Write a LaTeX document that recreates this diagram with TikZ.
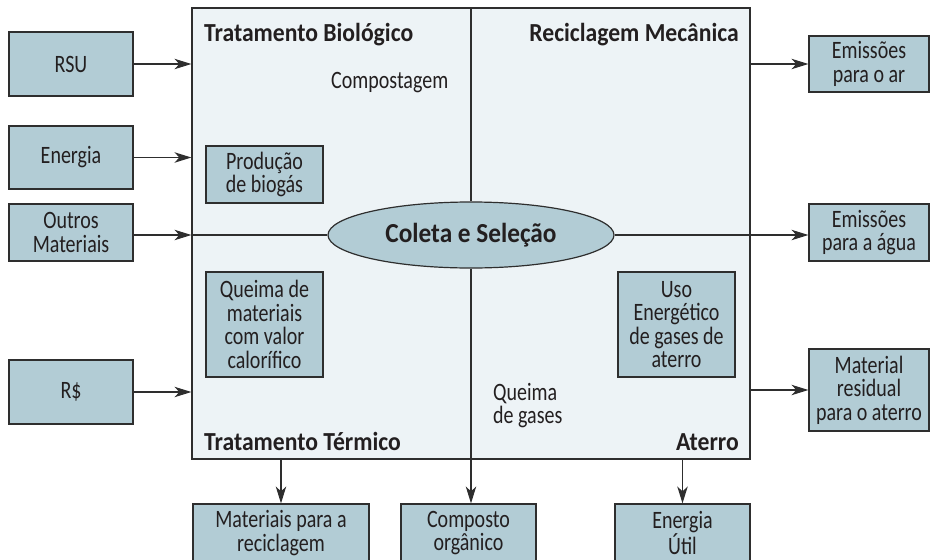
\documentclass[tikz,border=0pt]{standalone}
\usepackage{fontspec}
\setmainfont{Carlito}[FakeStretch=0.8, BoldFeatures={FakeStretch=0.91}]
\newfontfamily\ellfont{Carlito}[FakeStretch=0.92]
\usetikzlibrary{arrows.meta,shapes.geometric}
\definecolor{boxfill}{HTML}{B2CCD5}
\definecolor{mainfill}{HTML}{EDF3F6}
\definecolor{linec}{HTML}{2E2E2E}
\definecolor{textc}{HTML}{231F20}
\tikzset{
  x=1pt, y=-1pt,
  every node/.style={font=\fontsize{25}{23.5}\selectfont, text=textc},
  bluebox/.style={draw=linec, line width=1.2pt, fill=boxfill, align=center, inner sep=0pt, minimum width=#1},
  bluebox/.default=124pt,
  title/.style={font=\fontsize{26}{28}\selectfont\bfseries, inner sep=0pt},
  plain/.style={inner sep=0pt},
  flow/.style={draw=linec, line width=1.2pt, -{Stealth[length=17pt,width=10.5pt,inset=5pt]}},
  seg/.style={draw=linec, line width=1.2pt}
}
\begin{document}
\begin{tikzpicture}
\useasboundingbox (0,0) rectangle (930,560);
% main panel
\node[draw=linec, line width=1.2pt, fill=mainfill, minimum width=558pt, minimum height=451pt, inner sep=0pt] (main) at (471,233.5) {};
% left inputs
\node[bluebox, minimum height=64pt] (rsu) at (71,64) {RSU};
\node[bluebox, minimum height=63pt] (ene) at (71,157.5) {Energia};
\node[bluebox, minimum height=57pt] (out) at (71,232.5) {Outros\\Materiais};
\node[bluebox, minimum height=64pt] (rs) at (71,392) {R\$};
% right outputs
\node[bluebox=120pt, minimum height=56pt] (ar) at (869,64) {Emissões\\para o ar};
\node[bluebox=120pt, minimum height=57pt] (agua) at (869,232.5) {Emissões\\para a água};
\node[bluebox=120pt, minimum height=82pt] (mat) at (869,390) {Material\\residual\\para o aterro};
% inner boxes
\node[bluebox=117pt, minimum height=57pt] (bio) at (264.5,174.5) {Produção\\de biogás};
\node[bluebox=117pt, minimum height=105pt] (que) at (264.5,324.5) {Queima de\\materiais\\com valor\\calorífico};
\node[bluebox=117pt, minimum height=105pt] (uso) at (676.5,324.5) {Uso\\Energético\\de gases de\\aterro};
% bottom boxes
\node[bluebox=176pt, minimum height=58pt] (rec) at (281,533) {Materiais para a\\reciclagem};
\node[bluebox=135pt, minimum height=58pt] (comp) at (468.5,533) {Composto\\orgânico};
\node[bluebox=135pt, minimum height=58pt] (util) at (682.5,533) {Energia\\Útil};
% ellipse
\node[ellipse, draw=linec, line width=1.2pt, fill=boxfill, minimum width=286pt, minimum height=66pt, inner sep=0pt, font=\fontsize{27.5}{30}\selectfont\ellfont\bfseries] (ell) at (471,235) {Coleta e Seleção};
% titles and labels
\node[title, anchor=base west] (tb) at (204,41.5) {Tratamento Biológico};
\node[title, anchor=base east] (rm) at (739,41.5) {Reciclagem Mecânica};
\node[title, anchor=base west] (tt) at (204,450) {Tratamento Térmico};
\node[title, anchor=base east] (at) at (739,450) {Aterro};
\node[plain, anchor=base west] (cp) at (331,88) {Compostagem};
\node[plain, anchor=north west, align=left] (qg) at (493,383) {Queima\\de gases};
% dividers
\draw[seg] (main.north) -- (ell.north);
\draw[seg] (main.west |- ell.center) -- (ell.west);
% input arrows
\draw[flow] (rsu.east) -- (rsu.east -| main.west);
\draw[flow] (ene.east) -- (ene.east -| main.west);
\draw[flow] (out.east |- ell.center) -- (main.west |- ell.center);
\draw[flow] (rs.east) -- (rs.east -| main.west);
% output arrows
\draw[flow] (main.east |- ar.west) -- (ar.west);
\draw[flow] (ell.east) -- (ell.east -| agua.west);
\draw[flow] (main.east |- mat.west) -- (mat.west);
\draw[flow] (rec.north |- main.south) -- (rec.north);
\draw[flow] (ell.south) -- (ell.south |- comp.north);
\draw[flow] (util.north |- main.south) -- (util.north);
\end{tikzpicture}
\end{document}
